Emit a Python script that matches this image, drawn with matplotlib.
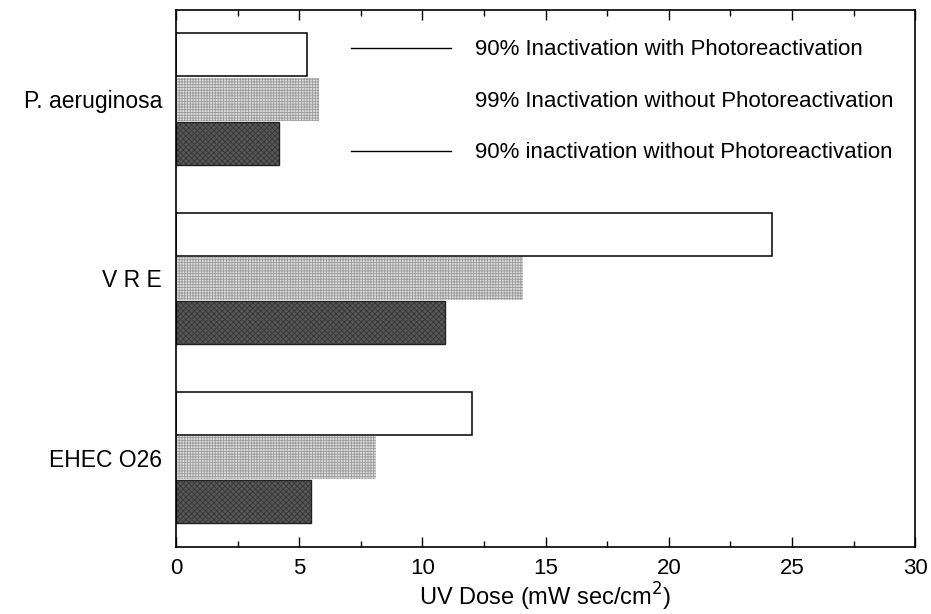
import matplotlib
matplotlib.use("Agg")
import matplotlib.pyplot as plt
from matplotlib.lines import Line2D
from matplotlib.ticker import MultipleLocator

plt.rcParams["font.family"] = ["Liberation Sans", "DejaVu Sans"]
plt.rcParams["hatch.linewidth"] = 0.6

# UV dose (mW sec/cm^2) per organism
organisms = ["P. aeruginosa", "V R E", "EHEC O26"]
with_photo_90 = [5.3, 24.2, 12.0]
without_photo_99 = [5.8, 14.1, 8.1]
without_photo_90 = [4.2, 10.9, 5.5]

series_labels = [
    "90% Inactivation with Photoreactivation",
    "99% Inactivation without Photoreactivation",
    "90% inactivation without Photoreactivation",
]

fig = plt.figure(figsize=(9.31, 6.14), dpi=100)
ax = fig.add_axes([0.189, 0.109, 0.794, 0.875])

pos = list(range(len(organisms)))
step = 0.248
h = 0.24

ax.barh([p - step for p in pos], with_photo_90, height=h,
        facecolor="white", edgecolor="black", linewidth=1.1)
ax.barh(pos, without_photo_99, height=h,
        facecolor="#dedede", edgecolor="#9a9a9a", hatch="++++++", linewidth=0)
ax.barh([p + step for p in pos], without_photo_90, height=h,
        facecolor="#575757", edgecolor="#363636", hatch="xxxxxx", linewidth=0)
# outline for the dark bars
ax.barh([p + step for p in pos], without_photo_90, height=h,
        facecolor="none", edgecolor="#222222", linewidth=1.0)

ax.set_xlim(0, 30)
ax.set_ylim(2.5, -0.5)
ax.set_yticks(pos)
ax.set_yticklabels(organisms, fontsize=16.5)
ax.tick_params(axis="y", length=0, pad=10)

ax.xaxis.set_major_locator(MultipleLocator(5))
ax.xaxis.set_minor_locator(MultipleLocator(2.5))
ax.tick_params(axis="x", which="both", direction="in", top=True, labelsize=16)
ax.tick_params(axis="x", which="major", length=7, width=1.0, pad=8)
ax.tick_params(axis="x", which="minor", length=4, width=1.0)
ax.set_xlabel("UV Dose (mW sec/cm$^2$)", fontsize=17, labelpad=1.5)

for spine in ax.spines.values():
    spine.set_linewidth(1.2)

handles = [
    Line2D([], [], color="black", linewidth=1.0),
    Line2D([], [], color="none"),
    Line2D([], [], color="black", linewidth=1.0),
]
ax.legend(handles, series_labels, loc="upper left", bbox_to_anchor=(0.21, 0.982),
          frameon=False, fontsize=16, handlelength=4.5, handletextpad=1.05,
          labelspacing=1.37)

fig.savefig("out.png", dpi=100, facecolor="white")
